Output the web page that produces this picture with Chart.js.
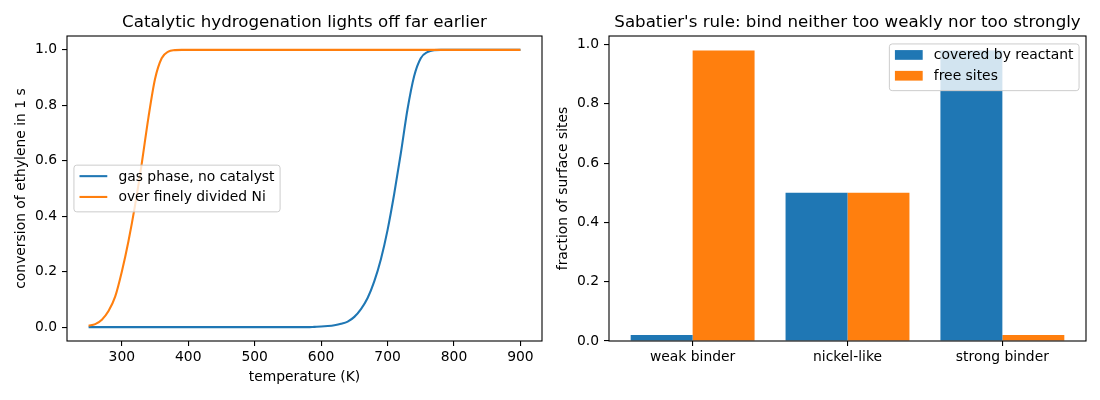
<!DOCTYPE html>
<html>
<head>
<meta charset="utf-8">
<script src="https://cdn.jsdelivr.net/npm/chart.js@4.4.1/dist/chart.umd.min.js"></script>
<style>
  html, body { margin: 0; padding: 0; background: #fff; }
  #wrap { position: relative; width: 1100px; height: 400px; overflow: hidden; }
  .box { position: absolute; top: 0; width: 550px; height: 400px; }
</style>
</head>
<body>
<div id="wrap">
  <div class="box" style="left:0"><canvas id="c1" width="550" height="400"></canvas></div>
  <div class="box" style="left:550px"><canvas id="c2" width="550" height="400"></canvas></div>
</div>
<script>
// ---------------- data ----------------
const temperatureK = [250,260,270,280,290,300,310,320,330,340,350,360,370,380,390,400,410,420,430,440,
  450,460,470,480,490,500,510,520,530,540,550,560,570,580,590,600,610,620,630,640,
  650,660,670,680,690,700,710,720,730,740,750,760,770,780,790,800,810,820,830,840,
  850,860,870,880,890,900];
const gasPhaseConversion = [0,0,0,0,0,0,0,0,0,0,0,0,0,0,0,0,0,0,0,0,
  0,0,0,0,0,0,0,0,0,0,0,0,0,0,0.001,0.002,0.004,0.007,0.012,0.02,
  0.037,0.065,0.105,0.165,0.245,0.35,0.48,0.627,0.785,0.905,0.97,0.992,0.999,1,1,1,1,1,1,1,
  1,1,1,1,1,1];
const nickelConversion = [0.005,0.011,0.027,0.058,0.11,0.20,0.31,0.44,0.59,0.755,0.895,0.97,0.994,0.999,1,1,1,1,1,1,
  1,1,1,1,1,1,1,1,1,1,1,1,1,1,1,1,1,1,1,1,
  1,1,1,1,1,1,1,1,1,1,1,1,1,1,1,1,1,1,1,1,
  1,1,1,1,1,1];
const lineLabels = ['gas phase, no catalyst', 'over finely divided Ni'];
const tempTicks = [300,400,500,600,700,800,900];
const conversionTicks = [0,0.2,0.4,0.6,0.8,1.0];

const binderCategories = ['weak binder', 'nickel-like', 'strong binder'];
const coveredByReactant = [0.02, 0.5, 0.98];
const freeSites = [0.98, 0.5, 0.02];
const barLabels = ['covered by reactant', 'free sites'];
const fractionTicks = [0,0.2,0.4,0.6,0.8,1.0];

// ---------------- styling ----------------
const FONT = '"DejaVu Sans", sans-serif';
const FS = 13.89;
const BLUE = '#1f77b4', ORANGE = '#ff7f0e';
Chart.defaults.color = '#000';
Chart.defaults.font.family = FONT;
Chart.defaults.font.size = FS;

const framePlugin = {
  id: 'frame',
  afterDatasetsDraw(chart) {
    const { ctx, chartArea: a } = chart;
    ctx.save();
    ctx.strokeStyle = '#000';
    ctx.lineWidth = 1.1;
    ctx.strokeRect(a.left, a.top, a.right - a.left, a.bottom - a.top);
    ctx.restore();
  }
};

function roundRect(ctx, x, y, w, h, r) {
  ctx.beginPath();
  ctx.moveTo(x + r, y);
  ctx.lineTo(x + w - r, y); ctx.quadraticCurveTo(x + w, y, x + w, y + r);
  ctx.lineTo(x + w, y + h - r); ctx.quadraticCurveTo(x + w, y + h, x + w - r, y + h);
  ctx.lineTo(x + r, y + h); ctx.quadraticCurveTo(x, y + h, x, y + h - r);
  ctx.lineTo(x, y + r); ctx.quadraticCurveTo(x, y, x + r, y);
  ctx.closePath();
}

const mplLegend = {
  id: 'mplLegend',
  afterDraw(chart, args, opts) {
    const { ctx, chartArea: a } = chart;
    ctx.save();
    ctx.font = FS + 'px ' + FONT;
    const ds = chart.data.datasets;
    const pad = 0.4 * FS, handleLen = 2 * FS, textPad = 0.8 * FS, axPad = 0.5 * FS;
    const rowStep = 20.8, h = 46.7;
    const tw = Math.max(...ds.map(d => ctx.measureText(d.label).width));
    const w = pad + handleLen + textPad + tw + pad;
    let x0, y0;
    if (opts.loc === 'center left') {
      x0 = a.left + axPad;
      y0 = (a.top + a.bottom) / 2 - h / 2;
    } else {
      x0 = a.right - axPad - w;
      y0 = a.top + axPad + 1;
    }
    roundRect(ctx, x0, y0, w, h, 2.8);
    ctx.fillStyle = 'rgba(255,255,255,0.8)';
    ctx.fill();
    ctx.strokeStyle = '#cccccc';
    ctx.lineWidth = 1;
    ctx.stroke();
    ds.forEach((d, i) => {
      const cy = y0 + 11 + i * rowStep;
      const hx = x0 + pad;
      if (opts.kind === 'line') {
        ctx.strokeStyle = d.borderColor;
        ctx.lineWidth = 2.08;
        ctx.beginPath();
        ctx.moveTo(hx, cy); ctx.lineTo(hx + handleLen, cy);
        ctx.stroke();
      } else {
        ctx.fillStyle = d.backgroundColor;
        ctx.fillRect(hx, cy - 0.35 * FS, handleLen, 0.7 * FS);
      }
      ctx.fillStyle = '#000';
      ctx.textBaseline = 'alphabetic';
      ctx.textAlign = 'left';
      ctx.fillText(d.label, hx + handleLen + textPad, cy + 4.4);
    });
    ctx.restore();
  }
};

function tickStyle() {
  return {
    grid: { display: true, offset: false, drawOnChartArea: false, drawTicks: true, tickLength: 5, color: '#000', lineWidth: 1.1 },
    border: { display: false }
  };
}

// ---------------- left chart ----------------
const tMin = Math.min(...temperatureK), tMax = Math.max(...temperatureK);
const tMargin = 0.05 * (tMax - tMin);

new Chart(document.getElementById('c1'), {
  type: 'line',
  data: {
    datasets: [
      { label: lineLabels[0], data: temperatureK.map((t, i) => ({ x: t, y: gasPhaseConversion[i] })),
        borderColor: BLUE, backgroundColor: BLUE, borderWidth: 2.08, pointRadius: 0,
        cubicInterpolationMode: 'monotone', order: 1 },
      { label: lineLabels[1], data: temperatureK.map((t, i) => ({ x: t, y: nickelConversion[i] })),
        borderColor: ORANGE, backgroundColor: ORANGE, borderWidth: 2.08, pointRadius: 0,
        cubicInterpolationMode: 'monotone', order: 0 }
    ]
  },
  options: {
    responsive: false, animation: false,
    layout: { padding: { left: 0, right: 8, top: 0, bottom: 0 } },
    plugins: {
      legend: { display: false }, tooltip: { enabled: false },
      title: { display: true, fullSize: false, text: 'Catalytic hydrogenation lights off far earlier',
        font: { size: 16.67, weight: 'normal', family: FONT, lineHeight: 1.2 }, color: '#000',
        padding: { top: 12.75, bottom: 3.25 } },
      mplLegend: { loc: 'center left', kind: 'line' }
    },
    scales: {
      x: Object.assign(tickStyle(), {
        type: 'linear', min: tMin - tMargin, max: tMax + tMargin,
        afterBuildTicks: s => { s.ticks = tempTicks.map(v => ({ value: v })); },
        afterFit: s => { s.height = 59; },
        ticks: { padding: 3, maxRotation: 0, callback: v => String(v) },
        title: { display: true, text: 'temperature (K)', font: { size: FS, lineHeight: 1.2 }, padding: { top: 0, bottom: 14.4 } }
      }),
      y: Object.assign(tickStyle(), {
        type: 'linear', min: -0.05, max: 1.05,
        afterBuildTicks: s => { s.ticks = conversionTicks.map(v => ({ value: v })); },
        afterFit: s => { s.width = 67; },
        ticks: { padding: 5, callback: v => Number(v).toFixed(1) },
        title: { display: true, text: 'conversion of ethylene in 1 s', font: { size: FS, lineHeight: 1.2 }, padding: { top: 13.2, bottom: 0 } }
      })
    }
  },
  plugins: [framePlugin, mplLegend]
});

// ---------------- right chart ----------------
const fMax = Math.max(...coveredByReactant, ...freeSites) * 1.05;
const catMargin = 0.05 * (binderCategories.length - 1 + 0.8);

new Chart(document.getElementById('c2'), {
  type: 'bar',
  data: {
    datasets: [
      { label: barLabels[0], data: binderCategories.map((c, i) => ({ x: i, y: coveredByReactant[i] })),
        backgroundColor: BLUE, borderWidth: 0, categoryPercentage: 0.8, barPercentage: 1.0 },
      { label: barLabels[1], data: binderCategories.map((c, i) => ({ x: i, y: freeSites[i] })),
        backgroundColor: ORANGE, borderWidth: 0, categoryPercentage: 0.8, barPercentage: 1.0 }
    ]
  },
  options: {
    responsive: false, animation: false,
    layout: { padding: { left: 0, right: 14, top: 0, bottom: 0 } },
    plugins: {
      legend: { display: false }, tooltip: { enabled: false },
      title: { display: true, fullSize: false, text: "Sabatier's rule: bind neither too weakly nor too strongly",
        font: { size: 16.67, weight: 'normal', family: FONT, lineHeight: 1.2 }, color: '#000',
        padding: { top: 12.75, bottom: 3.25 } },
      mplLegend: { loc: 'upper right', kind: 'patch' }
    },
    scales: {
      x: Object.assign(tickStyle(), {
        type: 'linear', offset: false, min: -0.4 - catMargin, max: binderCategories.length - 1 + 0.4 + catMargin,
        afterBuildTicks: s => { s.ticks = binderCategories.map((c, i) => ({ value: i })); },
        afterFit: s => { s.height = 59; },
        ticks: { padding: 3, maxRotation: 0, autoSkip: false, callback: v => binderCategories[Math.round(v)] }
      }),
      y: Object.assign(tickStyle(), {
        type: 'linear', min: 0, max: fMax,
        afterBuildTicks: s => { s.ticks = fractionTicks.map(v => ({ value: v })); },
        afterFit: s => { s.width = 59; },
        ticks: { padding: 5, callback: v => Number(v).toFixed(1) },
        title: { display: true, text: 'fraction of surface sites', font: { size: FS, lineHeight: 1.2 }, padding: { top: 5.2, bottom: 0 } }
      })
    }
  },
  plugins: [framePlugin, mplLegend]
});
</script>
</body>
</html>
